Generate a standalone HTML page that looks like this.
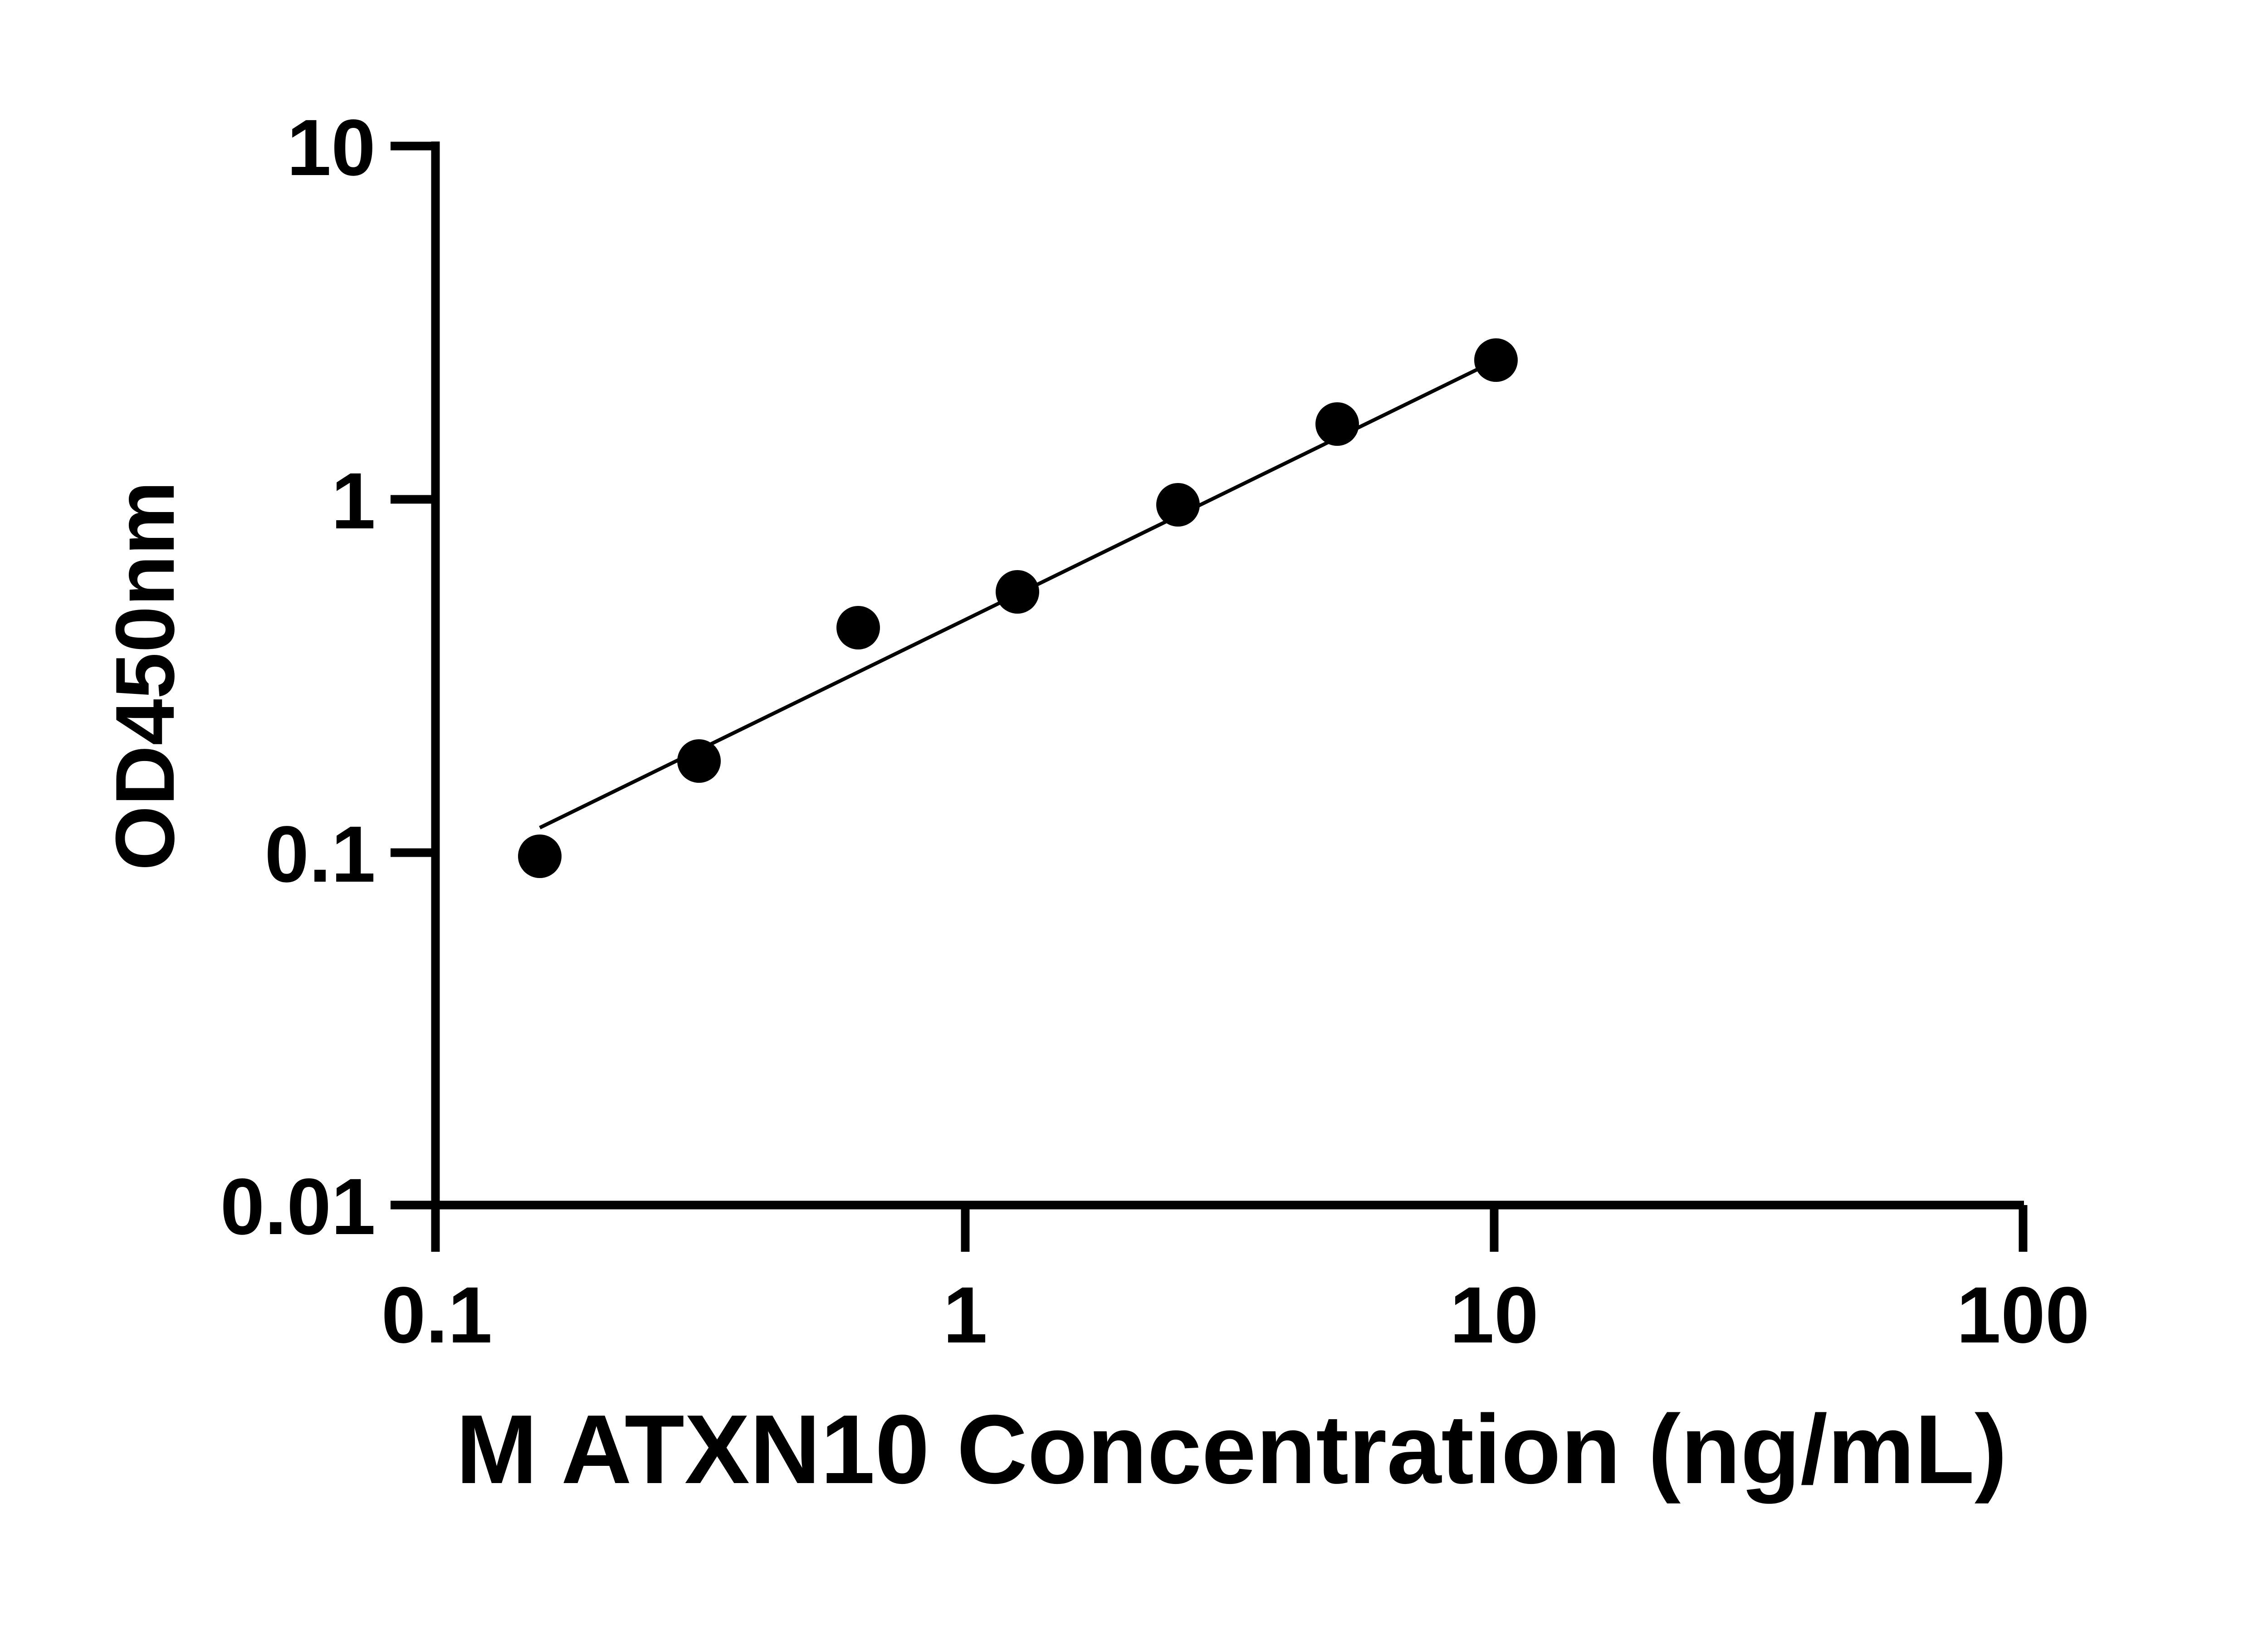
<!DOCTYPE html>
<html><head><style>html,body{margin:0;padding:0;background:#fff}</style></head>
<body>
<svg width="5142" height="3600" viewBox="0 0 5142 3600" xmlns="http://www.w3.org/2000/svg" font-family="Liberation Sans, sans-serif" font-weight="bold">
<g stroke="#000" stroke-width="19" fill="none">
<line x1="960" y1="312" x2="960" y2="2760"/>
<line x1="950" y1="2657" x2="4462" y2="2657"/>
<line x1="861" y1="322" x2="960" y2="322"/>
<line x1="861" y1="1101" x2="960" y2="1101"/>
<line x1="861" y1="1880" x2="960" y2="1880"/>
<line x1="861" y1="2657" x2="960" y2="2657"/>
<line x1="2128" y1="2657" x2="2128" y2="2760"/>
<line x1="3294" y1="2657" x2="3294" y2="2760"/>
<line x1="4460" y1="2657" x2="4460" y2="2760"/>
</g>
<path d="M1190,1825 L3260,813" stroke="#000" stroke-width="8" fill="none"/>
<g fill="#000">
<circle cx="1190" cy="1888" r="48"/>
<circle cx="1541" cy="1678" r="48"/>
<circle cx="1892" cy="1384" r="48"/>
<circle cx="2243" cy="1305" r="48"/>
<circle cx="2597" cy="1113" r="48"/>
<circle cx="2948" cy="935" r="48"/>
<circle cx="3298" cy="794" r="48"/>
</g>
<g font-size="176" text-anchor="end">
<text x="828" y="386">10</text>
<text x="828" y="1165">1</text>
<text x="828" y="1944">0.1</text>
<text x="828" y="2721">0.01</text>
</g>
<g font-size="176" text-anchor="middle">
<text x="963" y="2960">0.1</text>
<text x="2128" y="2960">1</text>
<text x="3294" y="2960">10</text>
<text x="4460" y="2960">100</text>
</g>
<text x="2715" y="3270" font-size="216" text-anchor="middle">M ATXN10 Concentration (ng/mL)</text>
<text transform="translate(383,1490) rotate(-90)" font-size="184" text-anchor="middle">OD450nm</text>
</svg>
</body></html>
